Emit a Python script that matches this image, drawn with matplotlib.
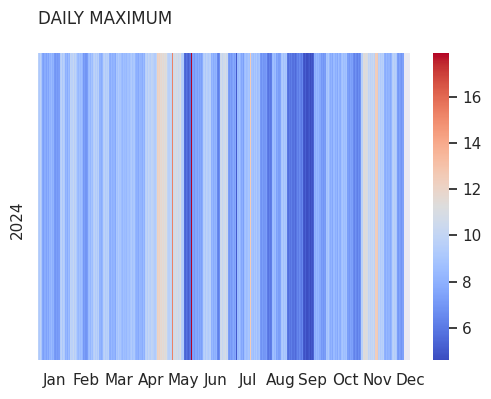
import matplotlib
matplotlib.use("Agg")
import matplotlib.pyplot as plt
import numpy as np
import pandas as pd
import seaborn as sns

nan = np.nan
year = "2024"
months = ["Jan", "Feb", "Mar", "Apr", "May", "Jun",
          "Jul", "Aug", "Sep", "Oct", "Nov", "Dec"]

# daily max values, one block of 30 columns per month label
jan = [9.6, 9.2, 9.8, 9.0, 7.6, 7.3, 7.8, 7.4, 7.9, 7.5, 8.2, 8.0, 8.4, 7.9, 8.1,
       7.1, 6.9, 7.3, 7.0, 7.2, 9.4, 9.8, 9.1, 9.6, 9.3, 8.0, 8.3, 7.8, 8.5, 8.1]
feb = [10.0, 9.7, 10.2, 9.5, 9.9, 9.3, 8.6, 8.3, 8.8, 8.4, 8.7, 8.2, 7.0, 7.3, 6.9,
       7.2, 8.4, 8.7, 8.2, 8.9, 8.5, 9.5, 9.8, 9.3, 9.7, 9.2, 9.6, 8.1, 7.8, 8.2]
mar = [9.5, 9.8, 9.3, 9.6, 9.4, 9.7, 8.0, 7.8, 8.3, 7.9, 8.1, 7.7, 9.1, 8.8, 9.3,
       8.9, 9.0, 8.5, 8.2, 8.7, 8.4, 8.6, 8.3, 8.8, 8.5, 9.0, 9.3, 8.8, 9.1, 9.2]
apr = [8.2, 7.9, 8.0, 7.7, 8.3, 8.1, 7.8, 8.4, 8.0, 9.6, 9.9, 9.4, 10.1, 9.7, 9.5,
       10.0, 9.8, 9.6, 9.3, 9.9, 12.3, 12.0, 12.2, 11.6, 11.8, 11.4, 11.7, 11.3, 11.5, 11.2]
may = [10.0, 9.6, 10.2, 9.8, 15.3, 10.6, 10.8, 11.0, 10.6, 10.9, 10.4, 10.7, 11.1, 9.6, 9.4,
       5.6, 5.3, 5.8, 5.5, 5.2, 5.7, 6.0, 17.9, 7.2, 7.5, 7.0, 7.6, 7.3, 7.8, 7.4]
jun = [7.6, 7.3, 7.8, 9.4, 9.7, 9.2, 9.8, 9.5, 9.3, 9.6, 8.0, 8.3, 7.8, 8.1, 7.9,
       8.2, 6.5, 6.2, 6.7, 10.4, 10.7, 10.2, 10.6, 10.9, 10.3, 10.5, 7.2, 6.9, 7.4, 7.0]
jul = [7.4, 7.7, 7.2, 7.6, 5.0, 8.4, 8.8, 8.2, 7.6, 7.9, 7.3, 8.6, 8.9, 8.5, 8.7,
       9.0, 8.8, 12.6, 8.9, 8.6, 9.1, 8.7, 9.2, 8.5, 8.8, 9.0, 7.1, 6.8, 7.3, 6.9]
aug = [7.0, 7.3, 6.1, 5.8, 6.3, 6.0, 6.2, 8.4, 8.7, 8.2, 8.6, 7.4, 7.7, 7.2, 7.5,
       9.0, 9.3, 8.8, 9.2, 8.9, 9.1, 5.9, 5.6, 6.1, 5.8, 6.2, 5.7, 6.0, 5.5, 5.9]
sep = [6.4, 6.1, 6.6, 6.3, 6.0, 6.5, 5.0, 4.8, 5.2, 4.7, 4.9, 5.1, 4.6, 5.0, 4.8,
       5.3, 8.0, 7.8, 8.3, 7.9, 8.2, 7.7, 7.0, 7.3, 6.9, 7.2, 7.1, 9.0, 8.8, 9.2]
oct_ = [8.3, 7.8, 8.1, 7.6, 8.4, 7.9, 8.2, 7.7, 8.5, 8.0, 7.8, 8.7, 9.0, 8.5, 8.8,
        8.6, 8.9, 7.3, 7.0, 7.5, 7.2, 7.4, 6.6, 6.3, 6.8, 6.5, 6.2, 6.7, 6.4, 6.9]
nov = [9.6, 11.2, 11.5, 11.0, 11.4, 11.1, 10.0, 10.3, 9.8, 10.2, 9.9, 10.4, 9.7, 12.4, 12.7,
       9.5, 9.8, 9.3, 9.6, 9.4, 9.7, 8.0, 7.8, 8.3, 7.9, 8.1, 7.7, 8.2, 9.5, 9.8]
dec = [9.4, 9.6, 9.2, 7.3, 7.0, 7.5, 7.2, 6.9, 7.4, nan, nan, nan, nan, nan, nan]

values = jan + feb + mar + apr + may + jun + jul + aug + sep + oct_ + nov + dec
df = pd.DataFrame([values], index=[year])

sns.set_theme()
fig = plt.figure(figsize=(4.91, 3.99), dpi=100)
ax = fig.add_axes([38 / 491, 1 - 360 / 399, 372 / 491, 307 / 399])
cax = fig.add_axes([433 / 491, 1 - 360 / 399, 16 / 491, 307 / 399])

sns.heatmap(df, cmap="coolwarm", ax=ax, cbar_ax=cax)
ax.grid(False)
ax.set_xticks([15 + 30 * i for i in range(12)])
ax.set_xticklabels(months, rotation=0)
ax.set_yticks([0.5])
ax.set_yticklabels([year], rotation=90, va="center_baseline")
ax.set_title("DAILY MAXIMUM", loc="left", pad=21)

fig.savefig("out.png", dpi=100)
